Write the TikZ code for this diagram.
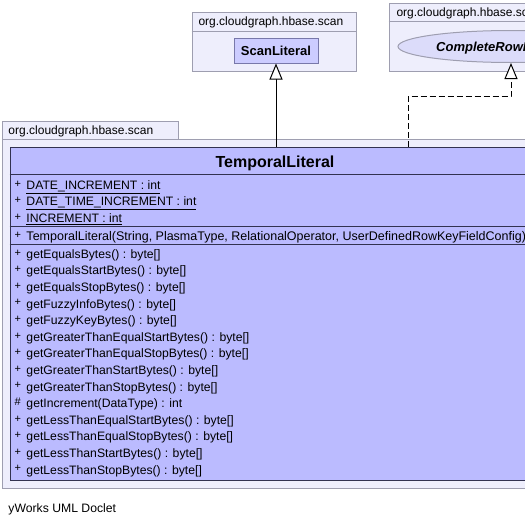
\documentclass[tikz,border=0pt]{standalone}
\usepackage{fontspec}
\setmainfont{Liberation Sans}
\usetikzlibrary{arrows.meta,shapes.geometric}
\definecolor{pkgfill}{RGB}{238,238,252}
\definecolor{pkgline}{RGB}{158,158,176}
\definecolor{clsfill}{RGB}{187,187,255}
\definecolor{clsline}{RGB}{50,50,80}
\definecolor{sfill}{RGB}{204,204,255}
\definecolor{sline}{RGB}{120,120,170}
\definecolor{efill}{RGB}{220,220,250}
\begin{document}
\begin{tikzpicture}[x=1pt,y=-1pt,line width=1pt,
  pkg/.style={draw=pkgline,fill=pkgfill,rectangle,inner sep=0pt},
  pkglabel/.style={font=\fontsize{12}{14}\selectfont,inner sep=0pt,anchor=base west},
  mem/.style={font=\fontsize{12.2}{14}\selectfont,inner sep=0pt,anchor=base west},
  vis/.style={font=\fontsize{11}{12}\selectfont,inner sep=0pt,anchor=base west},
  gen/.style={draw=black,-{Triangle[length=16pt,width=13pt,fill=white]}},
  real/.style={gen,dash pattern=on 6pt off 3pt}]
\useasboundingbox (0,0) rectangle (525,525);
\clip (0,0) rectangle (525,525);
\fill[white] (0,0) rectangle (525,525);
% packages
\node[pkg,minimum width=164pt,minimum height=59pt] (p1) at (274,41.5) {};
\draw[pkgline] (p1.west |- 0,31) -- (p1.east |- 0,31);
\node[pkglabel] (p1l) at (198,25.5) {org.cloudgraph.hbase.scan};
\node[pkg,minimum width=260pt,minimum height=68pt] (p2) at (519,37) {};
\draw[pkgline] (p2.west |- 0,21) -- (p2.east |- 0,21);
\node[pkglabel] (p2l) at (396,16) {org.cloudgraph.hbase.scan};
\node[pkg,minimum width=176pt,minimum height=18pt] (p3t) at (90,130) {};
\node[pkg,minimum width=550pt,minimum height=349pt] (p3) at (277,313.5) {};
\node[pkglabel] (p3l) at (8,134.5) {org.cloudgraph.hbase.scan};
% classes
\node[draw=sline,fill=sfill,minimum width=84pt,minimum height=25pt,inner sep=0pt,
  font=\bfseries\fontsize{13}{15}\selectfont] (sl) at (276,50.5) {ScanLiteral};
\node[draw=pkgline,fill=efill,ellipse,minimum width=226pt,minimum height=32pt,inner sep=0pt] (cr) at (511,46.5) {};
\node[font=\bfseries\itshape\fontsize{13}{15}\selectfont,inner sep=0pt,anchor=base] (crl) at (511,51) {CompleteRowKeyLiteral};
\node[draw=clsline,fill=clsfill,minimum width=530pt,minimum height=333pt,inner sep=0pt] (tl) at (275,313.5) {};
\node[font=\bfseries\fontsize{16}{18}\selectfont,inner sep=0pt,anchor=base] (title) at (275,167.5) {TemporalLiteral};
\draw[clsline] (tl.west |- 0,174.5) -- (tl.east |- 0,174.5);
\draw[clsline] (tl.west |- 0,226.5) -- (tl.east |- 0,226.5);
\draw[clsline] (tl.west |- 0,244.5) -- (tl.east |- 0,244.5);
% attributes
\node[vis] (va1) at (14,187) {+};
\node[mem] (a1) at (26,189.3) {\underline{DATE\_INCREMENT : int}};
\node[vis] (va2) at (14,203.5) {+};
\node[mem] (a2) at (26,205.8) {\underline{DATE\_TIME\_INCREMENT : int}};
\node[vis] (va3) at (14,220) {+};
\node[mem] (a3) at (26,222.3) {\underline{INCREMENT : int}};
% constructor
\node[vis] (vc) at (14,238.5) {+};
\node[mem,font=\fontsize{12.5}{14}\selectfont] (c1) at (26,240.8) {TemporalLiteral(String, PlasmaType, RelationalOperator, UserDefinedRowKeyFieldConfig)};
% methods
\foreach \mvis/\mname [count=\i] in {
  +/getEqualsBytes() : byte[],
  +/getEqualsStartBytes() : byte[],
  +/getEqualsStopBytes() : byte[],
  +/getFuzzyInfoBytes() : byte[],
  +/getFuzzyKeyBytes() : byte[],
  +/getGreaterThanEqualStartBytes() : byte[],
  +/getGreaterThanEqualStopBytes() : byte[],
  +/getGreaterThanStartBytes() : byte[],
  +/getGreaterThanStopBytes() : byte[],
  \#/getIncrement(DataType) : int,
  +/getLessThanEqualStartBytes() : byte[],
  +/getLessThanEqualStopBytes() : byte[],
  +/getLessThanStartBytes() : byte[],
  +/getLessThanStopBytes() : byte[]} {
  \node[vis] (v\i) at (14,{254+16.6*(\i-1)+2}) {\mvis};
  \node[mem] (m\i) at (26,{254+16.6*(\i-1)+4.3}) {\mname};
}
% connectors
\draw[gen] (sl.south |- tl.north) -- (sl.south);
\coordinate (bend) at (408,96);
\draw[real] (bend |- tl.north) -- (bend) -| (cr.south);
% footer
\node[mem] (foot) at (8,512) {yWorks UML Doclet};
\end{tikzpicture}
\end{document}
